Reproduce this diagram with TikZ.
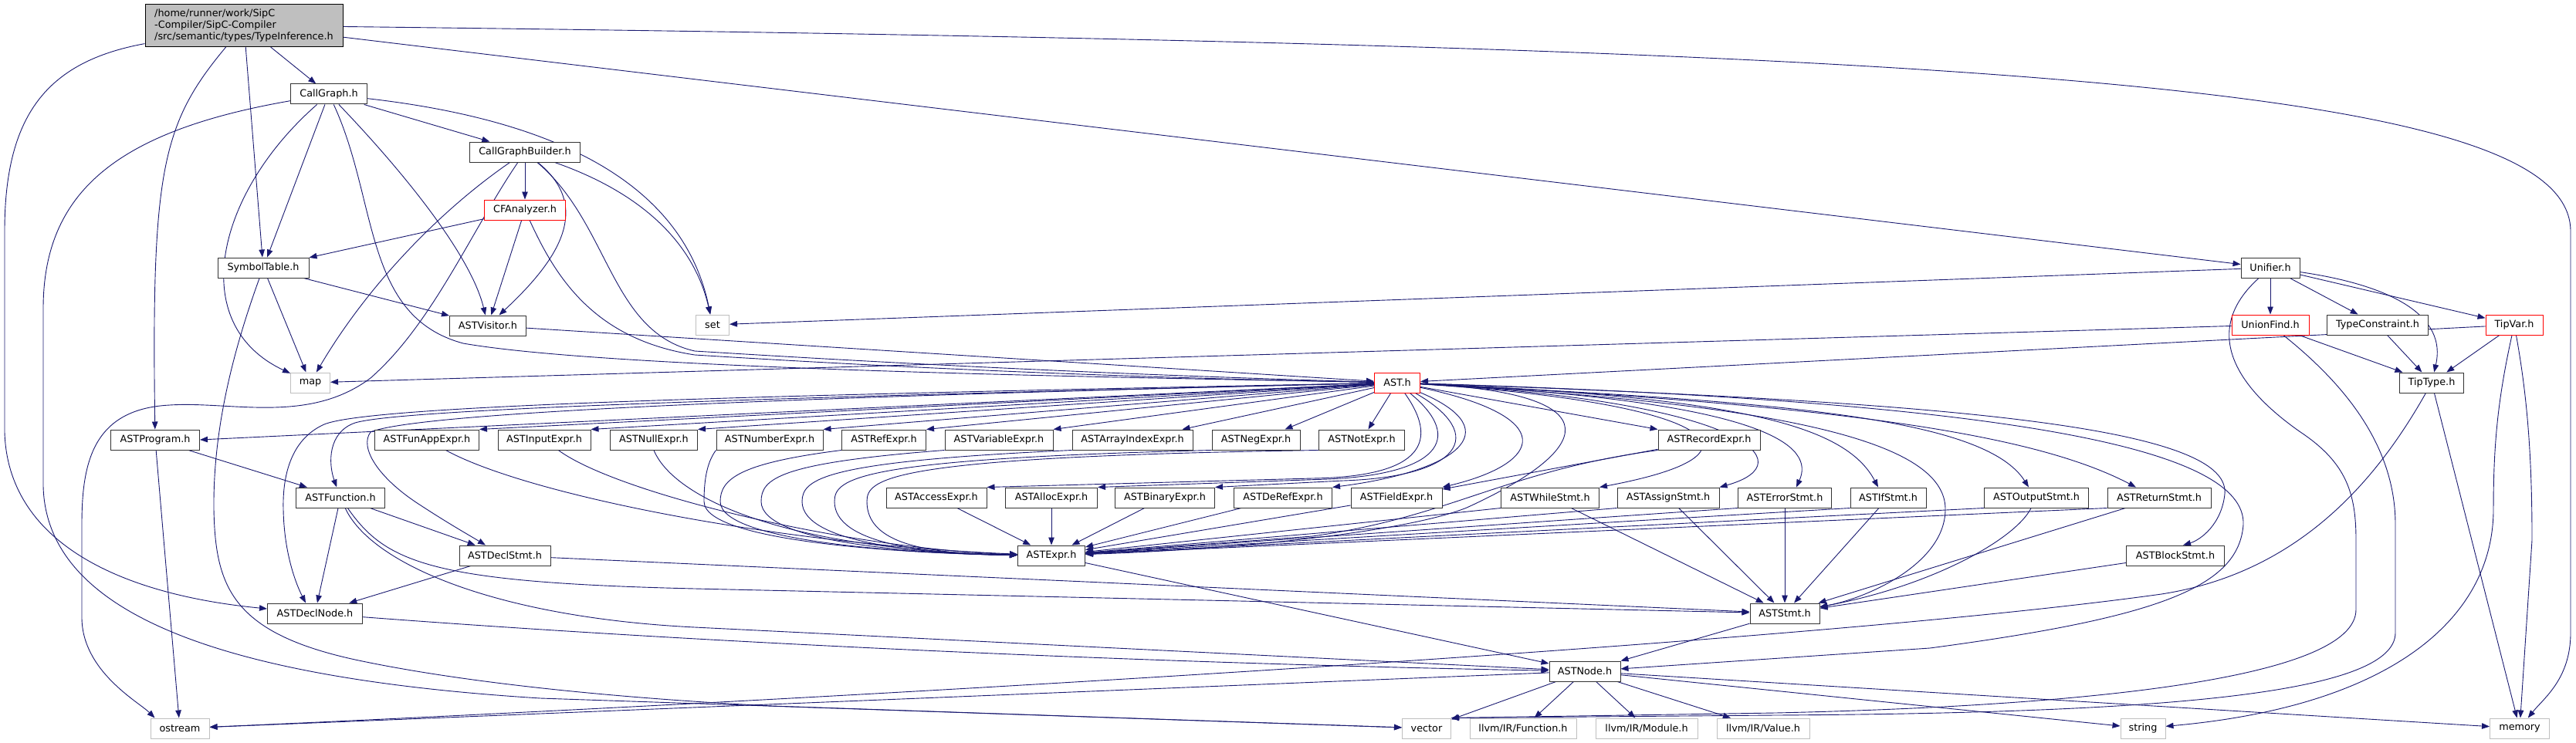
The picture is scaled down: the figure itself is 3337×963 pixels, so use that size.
\documentclass[tikz,border=0pt]{standalone}
\usepackage{fontspec}
\setmainfont{DejaVu Sans}
\usetikzlibrary{arrows.meta}
\definecolor{edgeblue}{HTML}{191970}
\definecolor{sysgray}{HTML}{BFBFBF}
\pgfdeclarelayer{edges}
\pgfsetlayers{edges,main}
\begin{document}
\begin{tikzpicture}[x=1pt,y=-1pt,
    file/.style={draw=black!80,line width=1pt,fill=white,minimum height=26pt,inner xsep=2pt,inner ysep=0pt,font=\fontsize{12.8}{15}\selectfont},
    mainfile/.style={file,fill=sysgray,draw=black,align=left,minimum height=55pt},
    redfile/.style={file,draw=red},
    sysfile/.style={file,draw=sysgray},
    dep/.style={draw=edgeblue,line width=0.9pt,-{Triangle[length=10pt,width=7.5pt]}}]
    \useasboundingbox (0,0) rectangle (3337,963);

    \node[mainfile,minimum width=256] (ti) at (316,33) {/home/runner/work/SipC\\-Compiler/SipC-Compiler\\/src/semantic/types/TypeInference.h};
    \node[file,minimum width=99] (cg) at (426,122) {CallGraph.h};
    \node[file,minimum width=143] (cgb) at (680,197) {CallGraphBuilder.h};
    \node[redfile,minimum width=105] (cfa) at (680,272) {CFAnalyzer.h};
    \node[file,minimum width=118] (st) at (341,347) {SymbolTable.h};
    \node[file,minimum width=99] (visitor) at (632,422) {ASTVisitor.h};
    \node[sysfile,minimum width=51] (map) at (402,496) {map};
    \node[sysfile,minimum width=43] (set) at (923,421) {set};
    \node[file,minimum width=76] (unifier) at (2941,347) {Unifier.h};
    \node[redfile,minimum width=100] (unionfind) at (2941,421) {UnionFind.h};
    \node[file,minimum width=131] (constraint) at (3080,421) {TypeConstraint.h};
    \node[redfile,minimum width=74] (tipvar) at (3257,421) {TipVar.h};
    \node[file,minimum width=83] (tiptype) at (3150,496) {TipType.h};
    \node[redfile,minimum width=59] (ast) at (1810,496) {AST.h};

    \node[file,minimum width=115] (program) at (201,570) {ASTProgram.h};
    \node[file,minimum width=135] (funapp) at (553,570) {ASTFunAppExpr.h};
    \node[file,minimum width=120] (input) at (705,570) {ASTInputExpr.h};
    \node[file,minimum width=113] (null) at (847,570) {ASTNullExpr.h};
    \node[file,minimum width=138] (number) at (997,570) {ASTNumberExpr.h};
    \node[file,minimum width=109] (ref) at (1145,570) {ASTRefExpr.h};
    \node[file,minimum width=140] (variable) at (1294,570) {ASTVariableExpr.h};
    \node[file,minimum width=156] (arrayindex) at (1467,570) {ASTArrayIndexExpr.h};
    \node[file,minimum width=114] (neg) at (1627,570) {ASTNegExpr.h};
    \node[file,minimum width=111] (not) at (1764,570) {ASTNotExpr.h};
    \node[file,minimum width=132] (record) at (2214,570) {ASTRecordExpr.h};

    \node[file,minimum width=115] (function) at (441,645) {ASTFunction.h};
    \node[file,minimum width=130] (access) at (1213,645) {ASTAccessExpr.h};
    \node[file,minimum width=119] (alloc) at (1362,645) {ASTAllocExpr.h};
    \node[file,minimum width=129] (binary) at (1509,645) {ASTBinaryExpr.h};
    \node[file,minimum width=127] (deref) at (1662,645) {ASTDeRefExpr.h};
    \node[file,minimum width=118] (field) at (1809,645) {ASTFieldExpr.h};
    \node[file,minimum width=127] (while) at (2008,645) {ASTWhileStmt.h};
    \node[file,minimum width=132] (assign) at (2161,645) {ASTAssignStmt.h};
    \node[file,minimum width=121] (error) at (2312,645) {ASTErrorStmt.h};
    \node[file,minimum width=98] (if) at (2446,645) {ASTIfStmt.h};
    \node[file,minimum width=135] (output) at (2638,645) {ASTOutputStmt.h};
    \node[file,minimum width=134] (return) at (2797,645) {ASTReturnStmt.h};

    \node[file,minimum width=118] (declstmt) at (654,720) {ASTDeclStmt.h};
    \node[file,minimum width=87] (expr) at (1362,720) {ASTExpr.h};
    \node[file,minimum width=127] (block) at (2818,720) {ASTBlockStmt.h};
    \node[file,minimum width=123] (declnode) at (408,795) {ASTDeclNode.h};
    \node[file,minimum width=90] (stmt) at (2312,795) {ASTStmt.h};
    \node[file,minimum width=92] (node) at (2053,870) {ASTNode.h};

    \node[sysfile,minimum width=76] (ostream) at (233,944) {ostream};
    \node[sysfile,minimum width=63] (vector) at (1848,944) {vector};
    \node[sysfile,minimum width=138] (function2) at (1973,944) {llvm/IR/Function.h};
    \node[sysfile,minimum width=132] (module) at (2133,944) {llvm/IR/Module.h};
    \node[sysfile,minimum width=120] (value) at (2284,944) {llvm/IR/Value.h};
    \node[sysfile,minimum width=58] (string) at (2776,944) {string};
    \node[sysfile,minimum width=77] (memory) at (3264,944) {memory};

    \begin{pgfonlayer}{edges}
    % TypeInference.h
    \draw[dep] (ti) -- (cg);
    \draw[dep] (ti) -- (st);
    \draw[dep] (ti) .. controls (210,160) and (196,220) .. (program);
    \draw[dep] (ti) .. controls (60,80) and (6,150) .. (6,300) -- (6,560) .. controls (10,700) and (150,770) .. (declnode);
    \draw[dep] (ti) -- (unifier);
    \draw[dep] (ti) .. controls (2600,60) and (3330,110) .. (3330,300) -- (3330,820) .. controls (3330,880) and (3295,905) .. (memory);

    % CallGraph.h, CallGraphBuilder.h, CFAnalyzer.h
    \draw[dep] (cg) -- (cgb);
    \draw[dep] (cg) -- (st);
    \draw[dep] (cg) .. controls (280,250) and (240,420) .. (map);
    \draw[dep] (cg) .. controls (520,220) and (610,330) .. (visitor);
    \draw[dep] (cg) .. controls (760,160) and (890,260) .. (set);
    \draw[dep] (cg) .. controls (490,260) and (470,410) .. (600,445) .. controls (800,480) and (1500,490) .. (ast);
    \draw[dep] (cg) .. controls (150,170) and (56,250) .. (56,400) -- (56,630) .. controls (60,800) and (300,880) .. (700,905) -- (vector);
    \draw[dep] (cgb) -- (cfa);
    \draw[dep] (cgb) .. controls (560,280) and (470,380) .. (map);
    \draw[dep] (cgb) .. controls (610,300) and (560,420) .. (480,490) .. controls (400,550) and (300,520) .. (220,525) .. controls (120,530) and (106,600) .. (106,680) -- (106,800) .. controls (106,870) and (180,910) .. ([xshift=6pt]ostream.north west);
    \draw[dep] (cgb) .. controls (770,270) and (720,340) .. (visitor);
    \draw[dep] (cgb) .. controls (860,260) and (905,340) .. (set);
    \draw[dep] (cgb) .. controls (790,290) and (790,430) .. (900,455) .. controls (1300,480) and (1600,490) .. (ast);
    \draw[dep] (cfa) -- (st);
    \draw[dep] (cfa) -- (visitor);
    \draw[dep] (cfa) .. controls (720,360) and (770,440) .. (900,460) .. controls (1300,485) and (1600,492) .. (ast);

    % SymbolTable.h, ASTVisitor.h
    \draw[dep] (st) -- (map);
    \draw[dep] (st) -- (visitor);
    \draw[dep] (st) .. controls (300,460) and (276,560) .. (277,660) .. controls (279,760) and (300,820) .. (460,855) .. controls (600,885) and (800,905) .. (1000,915) -- (vector);
    \draw[dep] (visitor) -- (ast);

    % Unifier.h and the types
    \draw[dep] (unifier) -- (unionfind);
    \draw[dep] (unifier) -- (constraint);
    \draw[dep] (unifier) -- (tipvar);
    \draw[dep] (unifier) .. controls (3100,370) and (3170,410) .. (tiptype);
    \draw[dep] (unifier) -- (set);
    \draw[dep] (unifier) .. controls (2860,420) and (2880,490) .. (2980,560) .. controls (3040,600) and (3052,640) .. (3052,700) -- (3052,790) .. controls (3052,880) and (2700,915) .. (2300,924) -- (vector.north east);
    \draw[dep] (unionfind) -- (tiptype);
    \draw[dep] (unionfind) -- (map);
    \draw[dep] (unionfind) .. controls (3040,500) and (3103,580) .. (3103,680) -- (3103,820) .. controls (3103,900) and (2800,924) .. (2300,927) -- (vector.north east);
    \draw[dep] (constraint) -- (tiptype);
    \draw[dep] (tipvar) -- (tiptype);
    \draw[dep] (tipvar) -- (ast);
    \draw[dep] (tipvar) .. controls (3235,520) and (3230,580) .. (3230,660) .. controls (3230,800) and (3100,915) .. (string);
    \draw[dep] (tipvar) .. controls (3275,520) and (3280,600) .. (3280,700) -- (memory);
    \draw[dep] (tiptype) -- (memory);
    \draw[dep] (tiptype) .. controls (3080,620) and (2980,742) .. (2800,770) .. controls (2300,840) and (900,915) .. (ostream);

    % AST.h
    \draw[dep] (ast) -- (program.east);
    \draw[dep] (ast) .. controls (1000,515) and (520,530) .. (460,548) .. controls (425,560) and (425,600) .. (function);
    \draw[dep] (ast) .. controls (1000,512) and (480,525) .. (420,550) .. controls (375,570) and (366,620) .. (367,660) .. controls (368,720) and (385,760) .. ([xshift=-12pt]declnode.north);
    \draw[dep] (ast) .. controls (1000,515) and (540,535) .. (480,560) .. controls (465,580) and (490,620) .. (545,655) .. controls (580,678) and (610,695) .. ([xshift=-25pt]declstmt.north);
    \draw[dep] (ast) -- (funapp.north east);
    \draw[dep] (ast) -- (input.north east);
    \draw[dep] (ast) -- (null.north east);
    \draw[dep] (ast) -- (number.north east);
    \draw[dep] (ast) -- (ref.north east);
    \draw[dep] (ast) -- (variable.north east);
    \draw[dep] (ast) -- ([xshift=-14pt]arrayindex.north east);
    \draw[dep] (ast) -- ([xshift=-20pt]neg.north east);
    \draw[dep] (ast) -- (not);
    \draw[dep] (ast) -- (record.north west);
    \draw[dep] (ast) .. controls (1870,580) and (1830,618) .. (1700,620) -- (access.north east);
    \draw[dep] (ast) .. controls (1900,570) and (1860,615) .. (1720,621) -- (alloc.north east);
    \draw[dep] (ast) .. controls (1930,565) and (1890,618) .. (1740,623) -- (binary.north east);
    \draw[dep] (ast) .. controls (1960,560) and (1880,612) .. (deref.north east);
    \draw[dep] (ast) .. controls (2020,540) and (2000,600) .. (field.north east);
    \draw[dep] (ast) .. controls (2100,510) and (2060,585) .. (1900,658) .. controls (1820,690) and (1600,712) .. (expr);
    \draw[dep] (ast) .. controls (2200,520) and (2320,585) .. (while.north east);
    \draw[dep] (ast) .. controls (2260,520) and (2340,600) .. (assign.north east);
    \draw[dep] (ast) .. controls (2300,520) and (2350,580) .. ([xshift=15pt]error.north);
    \draw[dep] (ast) .. controls (2250,515) and (2390,550) .. ([xshift=-13pt]if.north);
    \draw[dep] (ast) .. controls (2300,520) and (2570,540) .. ([xshift=-10pt]output.north);
    \draw[dep] (ast) .. controls (2400,525) and (2640,565) .. ([xshift=-30pt]return.north);
    \draw[dep] (ast) .. controls (2500,520) and (2890,550) .. (2882,640) .. controls (2878,680) and (2850,700) .. ([xshift=10pt]block.north);
    \draw[dep] (ast) .. controls (2350,525) and (2520,580) .. (2520,660) .. controls (2520,730) and (2420,775) .. (stmt);
    \draw[dep] (ast) .. controls (2600,520) and (2910,580) .. (2906,680) .. controls (2900,760) and (2800,800) .. (2500,840) -- (node);

    % program, function, declarations
    \draw[dep] (program) -- (function);
    \draw[dep] (program) -- (ostream);
    \draw[dep] (function) -- (declnode);
    \draw[dep] (function) -- (declstmt);
    \draw[dep] (function) .. controls (500,730) and (560,755) .. (900,763) -- (stmt);
    \draw[dep] (function) .. controls (480,730) and (640,800) .. (900,813) -- (node);
    \draw[dep] (declstmt) -- (declnode);
    \draw[dep] (declstmt) -- (stmt);
    \draw[dep] (declnode) .. controls (1000,840) and (1600,862) .. (node);

    % expressions
    \draw[dep] (funapp) .. controls (680,640) and (1000,705) .. (expr);
    \draw[dep] (input) .. controls (800,640) and (1100,712) .. (expr);
    \draw[dep] (null.south) .. controls (870,640) and (1000,712) .. (expr);
    \draw[dep] (number.south west) .. controls (915,600) and (912,625) .. (912,650) .. controls (912,705) and (1200,718) .. (expr);
    \draw[dep] (ref.south west) .. controls (960,600) and (933,620) .. (933,650) .. controls (933,705) and (1200,718) .. (expr);
    \draw[dep] (variable.south west) .. controls (1010,600) and (986,620) .. (986,650) .. controls (986,705) and (1200,718) .. (expr);
    \draw[dep] (arrayindex.south west) .. controls (1070,598) and (1039,620) .. (1039,650) .. controls (1039,705) and (1200,718) .. (expr);
    \draw[dep] (neg.south west) .. controls (1110,595) and (1081,620) .. (1081,650) .. controls (1081,705) and (1200,718) .. (expr);
    \draw[dep] (not.south west) .. controls (1150,592) and (1123,620) .. (1123,650) .. controls (1123,705) and (1200,718) .. (expr);
    \draw[dep] (access) -- (expr);
    \draw[dep] (alloc) -- (expr);
    \draw[dep] (binary) -- (expr);
    \draw[dep] (deref) -- (expr);
    \draw[dep] (field) -- (expr);
    \draw[dep] (record) -- (field);
    \draw[dep] (record.south west) .. controls (1950,610) and (1880,670) .. (1700,695) -- (expr);

    % statements
    \draw[dep] (while.south west) -- (expr);
    \draw[dep] (assign.south west) -- (expr);
    \draw[dep] (error.south west) -- (expr);
    \draw[dep] (if.south west) -- (expr);
    \draw[dep] (output.south west) -- (expr);
    \draw[dep] (return.south west) -- (expr);
    \draw[dep] (while) -- (stmt);
    \draw[dep] (assign) -- (stmt);
    \draw[dep] (error) -- (stmt);
    \draw[dep] (if) -- (stmt);
    \draw[dep] (output) .. controls (2610,700) and (2500,760) .. (stmt);
    \draw[dep] (return) -- (stmt);
    \draw[dep] (block) -- (stmt);

    % ASTExpr.h, ASTStmt.h, ASTNode.h
    \draw[dep] (expr) -- (node);
    \draw[dep] (stmt) -- (node);
    \draw[dep] (node) -- (vector);
    \draw[dep] (node) -- (function2);
    \draw[dep] (node) -- (module);
    \draw[dep] (node) -- (value);
    \draw[dep] (node) -- (ostream);
    \draw[dep] (node) -- (string);
    \draw[dep] (node) -- (memory);
    \end{pgfonlayer}
\end{tikzpicture}
\end{document}
